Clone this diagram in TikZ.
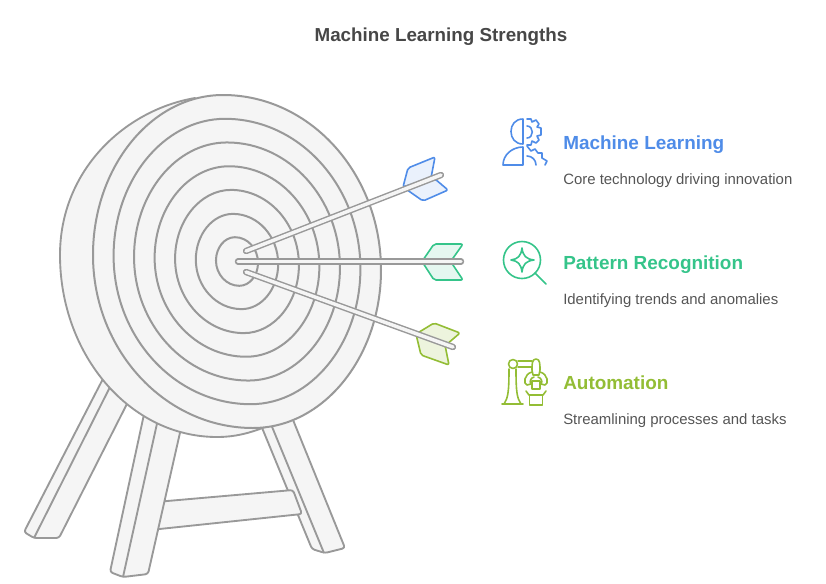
\documentclass[tikz,border=0pt]{standalone}
\usepackage{fontspec}
\setmainfont{Liberation Sans}
\usepackage{tikz}
\usetikzlibrary{positioning}
\definecolor{mlblue}{HTML}{4F8CE8}
\definecolor{mlgreen}{HTML}{35C48A}
\definecolor{mllime}{HTML}{93BD35}
\definecolor{mlgrey}{HTML}{999999}
\definecolor{mlfill}{HTML}{F5F5F5}
\definecolor{mltext}{HTML}{555555}
\tikzset{
 wood/.style={draw=mlgrey,fill=mlfill,line width=1.4pt,line join=round},
 ring/.style={draw=mlgrey,fill=mlfill,line width=1.5pt},
 shaft/.style={draw=mlgrey,line width=4.8pt,line cap=round},
 shaftin/.style={draw=mlfill,line width=2.6pt,line cap=round},
 icon/.style={line width=1.2pt,line join=round,line cap=round},
 feather/.style={icon,rounded corners=1.5pt},
 heading/.style={font=\fontsize{14.2}{18}\selectfont\bfseries,anchor=base west,inner sep=0pt},
 caption/.style={font=\fontsize{11.2}{13}\selectfont,text=mltext,anchor=base west,inner sep=0pt}
}
\begin{document}
\begin{tikzpicture}[x=0.75pt,y=-0.75pt]
 \useasboundingbox (0,0) rectangle (826,583);
 \node[font=\fontsize{14.1}{17}\selectfont\bfseries,text=black!72,inner sep=0pt,anchor=base] (title) at (441,41) {Machine Learning Strengths};
 % legs
 \draw[wood,rounded corners=2pt] (107,371) -- (24,532) -- (34,538) -- (59,538) -- (135,388) -- cycle;
 \draw[wood] (112,383) -- (34,538);
 \draw[wood,rounded corners=2pt] (258,418) -- (312,549) -- (325,553) -- (345,548) -- (289,410) -- cycle;
 \draw[wood] (268,417) -- (324,553);
 \draw[wood,rounded corners=2pt] (150,502.5) -- (293,490) -- (302,514) -- (150,530) -- cycle;
 \draw[wood,rounded corners=2pt] (146,405) -- (110,572) -- (123,577) -- (148,574) -- (184,415) -- cycle;
 \draw[wood] (160,410) -- (123,577);
 % target
 \draw[wood] (195,98) .. controls (125,110) and (60,170) .. (60,255)
  .. controls (60,355) and (130,437) .. (217,437)
  .. controls (235,437) and (250,433) .. (265,427) -- (300,300) -- cycle;
 \foreach \s in {1,0.857,0.715,0.572,0.43,0.286,0.146}
  \draw[ring,shift={(237,261.5)},scale=\s] (-14,-166.5)
   .. controls (73,-166.5) and (144,-88) .. (144,8.5)
   .. controls (144,95.5) and (86.4,166.5) .. (16,166.5)
   .. controls (-72,166.5) and (-144,88.6) .. (-144,-6.5)
   .. controls (-144,-94.5) and (-85.5,-166.5) .. (-14,-166.5) -- cycle;
 % darts
 \coordinate (tipa) at (246,251);
 \coordinate (enda) at (441,175);
 \coordinate (tipb) at (238,261.5);
 \coordinate (endb) at (461,261.5);
 \coordinate (tipc) at (246,272);
 \coordinate (endc) at (453,347);
 \draw[feather,draw=mlblue,fill=mlblue!12] (403,187) -- (408,168) -- (435,157) -- (431,178) -- cycle;
 \draw[feather,draw=mlblue,fill=mlblue!12] (403,187) -- (423,201) -- (448,190) -- (435,179) -- cycle;
 \draw[feather,draw=mlgreen,fill=mlgreen!13] (422,261.5) -- (434,244) -- (463,244) -- (451,261) -- cycle;
 \draw[feather,draw=mlgreen,fill=mlgreen!13] (422,261.5) -- (434,280) -- (463,280) -- (451,262) -- cycle;
 \draw[feather,draw=mllime,fill=mllime!17] (416,334) -- (434,323) -- (460,333) -- (446,345) -- cycle;
 \draw[feather,draw=mllime,fill=mllime!17] (416,334) -- (421,355) -- (449,365) -- (445,345) -- cycle;
 \foreach \tip/\tail in {tipa/enda,tipb/endb,tipc/endc} {
  \draw[shaft] (\tip) -- (\tail);
  \draw[shaftin] (\tip) -- (\tail);
 }
 % machine learning icon
 \begin{scope}[icon,draw=mlblue]
  \draw (523,119) -- (523,144) (523,119) .. controls (515,119) and (511,125) .. (511,131.5) .. controls (511,138) and (515,144) .. (523,144);
  \draw (523,147) -- (523,165) -- (503,165) .. controls (503,155) and (512,147) .. (523,147);
  \draw (527,126) .. controls (534,126) and (534,138) .. (527,138);
  \draw (527,119) -- (531,119) -- (532,122) -- (536,120) -- (539,124) -- (537,127) -- (541,128) -- (541,135) -- (537,136) -- (539,140) -- (536,143) -- (532,141) -- (531,145) -- (527,145);
  \draw (527,146) -- (531,151) -- (535,149) -- (538,153) -- (542,153) -- (542,158) -- (547,161) -- (545,165);
  \draw (527,156) .. controls (532,156) and (536,160) .. (536,165);
 \end{scope}
 % pattern recognition icon
 \begin{scope}[icon,draw=mlgreen]
  \draw (522,260) circle [radius=18.5];
  \draw (535,273) -- (546,284);
  \draw (522,248) .. controls (523,256) and (526,259) .. (534,260) .. controls (526,261) and (523,264) .. (522,272) .. controls (521,264) and (518,261) .. (511,260) .. controls (518,259) and (521,256) .. (522,248) -- cycle;
 \end{scope}
 % automation icon
 \begin{scope}[icon,draw=mllime]
  \draw (502,404) -- (523,404);
  \draw (504,404) .. controls (508,398) and (509,392) .. (509,369);
  \draw (521,404) .. controls (517,398) and (516,392) .. (516,369);
  \draw (513,364) circle [radius=4.5];
  \draw (518,361) -- (532,361) (518,367) -- (532,367);
  \draw (536,359) .. controls (532,359) and (532,364) .. (532,370) -- (533,375) -- (539,375) -- (540,370) .. controls (540,364) and (540,359) .. (536,359);
  \draw (532,372) .. controls (524,374) and (523,384) .. (527,385) -- (531,384) .. controls (529,381) and (531,378) .. (534,377);
  \draw (540,372) .. controls (548,374) and (549,384) .. (545,385) -- (541,384) .. controls (543,381) and (541,378) .. (538,377);
  \draw (532,381) rectangle (540,389);
  \draw (526,391) -- (529,395) -- (543,395) -- (546,391);
  \draw (529.5,395) rectangle (542.5,405);
 \end{scope}
 % labels
 \node[heading,text=mlblue] (mlhead) at (563,149) {Machine Learning};
 \node[caption] (mlcap) at (563,184) {Core technology driving innovation};
 \node[heading,text=mlgreen] (prhead) at (563,269) {Pattern Recognition};
 \node[caption] (prcap) at (563,304) {Identifying trends and anomalies};
 \node[heading,text=mllime] (auhead) at (563,389) {Automation};
 \node[caption] (aucap) at (563,424) {Streamlining processes and tasks};
\end{tikzpicture}
\end{document}
